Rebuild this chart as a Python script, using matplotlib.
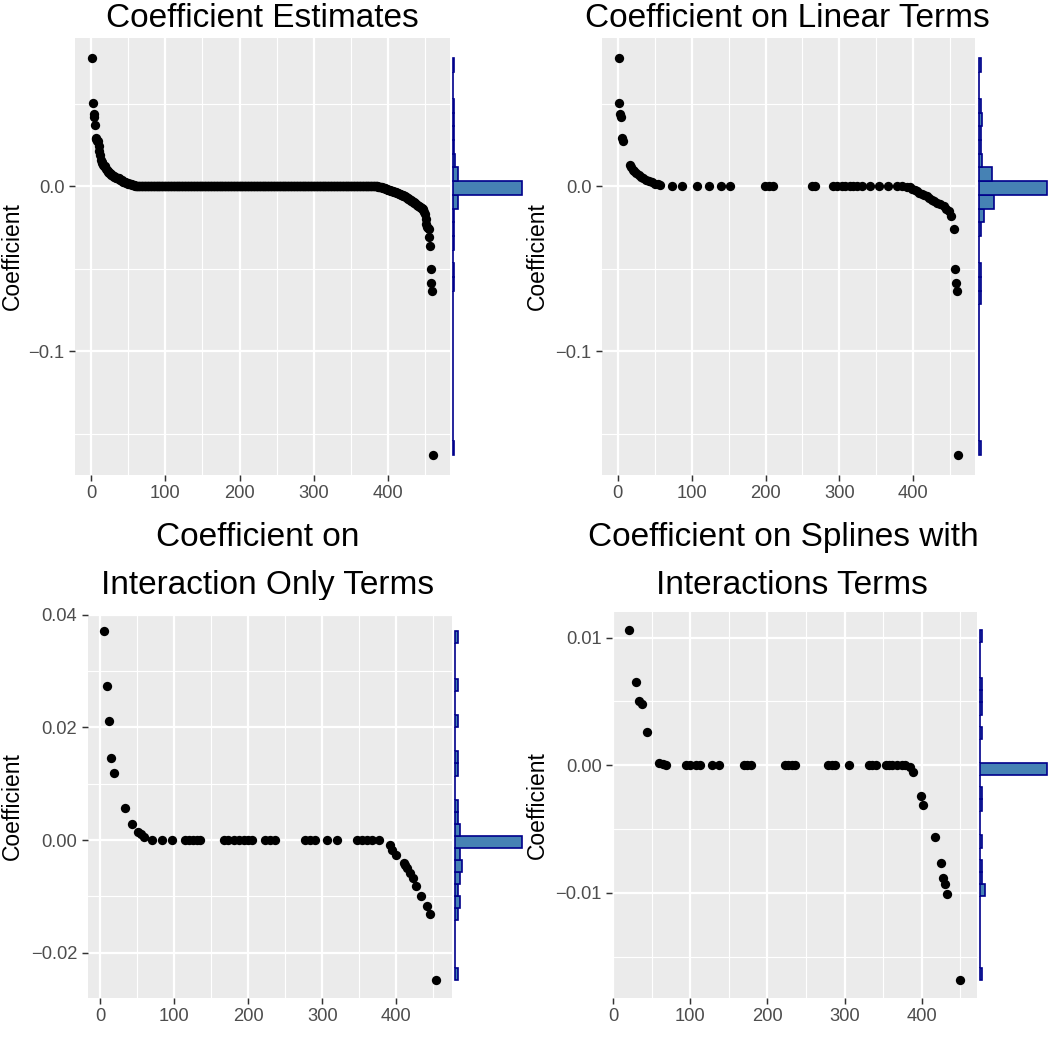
import numpy as np
import matplotlib
matplotlib.use("Agg")
import matplotlib.pyplot as plt
from matplotlib.transforms import Bbox, TransformedBbox

plt.rcParams['font.family'] = ['Liberation Sans', 'DejaVu Sans']

W = H = 1050

# ---------------- data ----------------
# Panel 1: all coefficients, sorted (rank 1..n)
p1_head = [0.0779, 0.0504, 0.0437, 0.0420, 0.0371, 0.0295, 0.0289, 0.0276, 0.0274, 0.0244,
           0.0212, 0.0193, 0.0160, 0.0146, 0.0140, 0.0130, 0.0125, 0.0121, 0.0119, 0.0106,
           0.0100, 0.0094, 0.0088, 0.0083, 0.0079, 0.0075, 0.0071, 0.0068, 0.0065, 0.0062,
           0.0059, 0.0056, 0.0053, 0.0051, 0.0050, 0.0049, 0.0048, 0.0044, 0.0041, 0.0038,
           0.0036, 0.0033, 0.0029, 0.0026, 0.0025, 0.0024, 0.0022, 0.0020, 0.0018, 0.0017,
           0.0016, 0.0015, 0.0013, 0.0012, 0.0011, 0.0010, 0.0008, 0.0007, 0.0005, 0.0004,
           0.0002, 0.00015, 0.00012, 0.0001, 0.0001, 0.00008, 0.00006, 0.00005, 0.00003]
p1_zero_count = 316
p1_tail = [-0.0001, -0.0002, -0.0003, -0.0004, -0.0005, -0.0006, -0.0007, -0.0008, -0.0010, -0.0011,
           -0.0013, -0.0015, -0.0017, -0.0018, -0.0020, -0.0021, -0.0023, -0.0024, -0.0026, -0.0027,
           -0.0029, -0.0030, -0.0032, -0.0033, -0.0035, -0.0037, -0.0039, -0.0041, -0.0043, -0.0045,
           -0.0047, -0.0049, -0.0051, -0.0053, -0.0055, -0.0057, -0.0059, -0.0061, -0.0064, -0.0067,
           -0.0070, -0.0073, -0.0076, -0.0079, -0.0082, -0.0085, -0.0088, -0.0091, -0.0094, -0.0097,
           -0.0100, -0.0104, -0.0108, -0.0111, -0.0114, -0.0117, -0.0120, -0.0123, -0.0126, -0.0129,
           -0.0133, -0.0138, -0.0145, -0.0155, -0.0169, -0.0200, -0.0231, -0.0245, -0.0251, -0.0260,
           -0.0308, -0.0363, -0.0500, -0.0588, -0.0633, -0.1630]
p1_y = p1_head + [0.0] * p1_zero_count + p1_tail
p1_x = list(range(1, len(p1_y) + 1))

# Panel 2: linear terms
p2_x = [1, 2, 3, 4, 5, 7, 16, 18, 20, 22, 25, 28, 31, 34, 38, 42, 46, 50, 54, 57,
        73, 87, 107, 123, 140, 152, 199, 205, 210, 263, 267,
        292, 297, 303, 308, 314, 319, 324, 330, 342, 354, 366, 378, 385, 391,
        395, 398, 402, 405, 408, 412, 415, 418, 422, 425, 428, 432, 436, 441, 444, 448, 451,
        455, 457, 458, 459, 461]
p2_y = [0.0779, 0.0504, 0.0437, 0.0420, 0.0295, 0.0276, 0.0130, 0.0115, 0.0100, 0.0090,
        0.0079, 0.0068, 0.0059, 0.0051, 0.0041, 0.0031, 0.0024, 0.0017, 0.0012, 0.0008,
        0, 0, 0, 0, 0, 0, 0, 0, 0, 0, 0,
        0, 0, 0, 0, 0, 0, 0, 0, 0, 0, 0, 0, 0, -0.0002,
        -0.0006, -0.0014, -0.0022, -0.0030, -0.0038, -0.0047, -0.0054, -0.0061, -0.0069, -0.0080,
        -0.0090, -0.0101, -0.0110, -0.0121, -0.0135, -0.0152, -0.0182,
        -0.0259, -0.0500, -0.0589, -0.0634, -0.1630]

# Panel 3: interaction only terms
p3_x = [5, 9, 11, 14, 19, 33, 43, 51, 55, 59,
        70, 83, 97, 115, 120, 125, 130, 135, 167, 173, 180, 187, 194, 200, 205,
        223, 229, 236, 277, 284, 290, 307, 320, 347, 353, 360, 367, 376,
        391, 394, 399, 410, 412, 415, 419, 423, 427, 433, 442, 445, 453]
p3_y = [0.0371, 0.0274, 0.0212, 0.0146, 0.0119, 0.0056, 0.0029, 0.0015, 0.0011, 0.0005,
        0, 0, 0, 0, 0, 0, 0, 0, 0, 0, 0, 0, 0, 0, 0,
        0, 0, 0, 0, 0, 0, 0, 0, 0, 0, 0, 0, 0,
        -0.0009, -0.0018, -0.0027, -0.0041, -0.0045, -0.0050, -0.0059, -0.0068, -0.0081, -0.0100,
        -0.0117, -0.0131, -0.0249]

# Panel 4: splines with interaction terms
p4_x = [20, 29, 34, 37, 44, 60, 65, 69,
        95, 100, 107, 113, 128, 137, 169, 174, 178, 223, 227, 232, 236, 279, 284, 288, 305,
        331, 335, 340, 353, 357, 361, 368, 374, 378,
        385, 388, 399, 402, 417, 425, 428, 430, 433, 450]
p4_y = [0.0106, 0.00655, 0.0050, 0.0048, 0.00263, 0.00015, 0.0001, 0.00005,
        0, 0, 0, 0, 0, 0, 0, 0, 0, 0, 0, 0, 0, 0, 0, 0, 0,
        0, 0, 0, 0, 0, 0, 0, 0, 0,
        -0.0001, -0.00055, -0.00244, -0.0031, -0.00562, -0.00762, -0.0088, -0.0093, -0.0101, -0.01685]

x_ticks = [0, 100, 200, 300, 400]
y_ticks_12 = [-0.1, 0.0]
y_labels_12 = ["\u22120.1", "0.0"]
y_ticks_3 = [-0.02, 0.0, 0.02, 0.04]
y_labels_3 = ["\u22120.02", "0.00", "0.02", "0.04"]
y_ticks_4 = [-0.01, 0.0, 0.01]
y_labels_4 = ["\u22120.01", "0.00", "0.01"]

title_1 = ["Coefficient Estimates"]
title_2 = ["Coefficient on Linear Terms"]
title_3 = ["Coefficient on", "Interaction Only Terms"]
title_4 = ["Coefficient on Splines with", "Interactions Terms"]
y_title = "Coefficient"
n_bins = 29

# ---------------- drawing ----------------
fig = plt.figure(figsize=(10.5, 10.5), dpi=100)
fig.patch.set_facecolor('white')


def minor_breaks(majors, lo, hi):
    step = majors[1] - majors[0]
    ext = [majors[0] - step] + list(majors) + [majors[-1] + step]
    mids = [(a + b) / 2 for a, b in zip(ext[:-1], ext[1:])]
    return [m for m in mids if lo <= m <= hi]


def panel(x, y, yt, ytl, left, top, bottom, qleft, qright, title_lines, title_base):
    width = (qright - left) / 1.2
    right = left + width
    ax = fig.add_axes([left / W, 1 - bottom / H, width / W, (bottom - top) / H])
    ax.set_facecolor('#EBEBEB')
    for s in ax.spines.values():
        s.set_visible(False)
    xr = max(x) - min(x)
    yr = max(y) - min(y)
    xlim = (min(x) - 0.05 * xr, max(x) + 0.05 * xr)
    ylim = (min(y) - 0.05 * yr, max(y) + 0.05 * yr)
    ax.set_xlim(xlim)
    ax.set_ylim(ylim)
    ax.set_xticks(x_ticks)
    ax.set_xticklabels([str(t) for t in x_ticks])
    ax.set_yticks(yt)
    ax.set_yticklabels(ytl)
    ax.set_xticks(minor_breaks(x_ticks, *xlim), minor=True)
    ax.set_yticks(minor_breaks(yt, *ylim), minor=True)
    ax.tick_params(which='major', length=4.1, width=1.07, color='#333333',
                   labelcolor='#4D4D4D', labelsize=13.2, pad=3.3)
    ax.tick_params(which='minor', length=0)
    ax.grid(which='major', color='white', linewidth=1.6)
    ax.grid(which='minor', color='white', linewidth=0.8)
    ax.set_axisbelow(True)
    ax.scatter(x, y, s=45, color='black', linewidths=0, zorder=3)

    axm = fig.add_axes([right / W, 1 - bottom / H, (qright - right) / W, (bottom - top) / H])
    counts, edges, patches = axm.hist(y, bins=n_bins, orientation='horizontal',
                                      color='#4682B4', edgecolor='#00008B', linewidth=1.2)
    axm.set_ylim(ylim)
    m = counts.max()
    axm.set_xlim(-0.05 * m, 1.05 * m)
    axm.axis('off')

    # y axis title
    fig.text((qleft + 0.5) / W, 1 - ((top + bottom) / 2) / H, y_title, rotation=90,
             ha='left', va='center', fontsize=16.5, color='black')

    qc = (qleft + qright) / 2
    if len(title_lines) == 1:
        fig.text(qc / W, 1 - title_base[0] / H, title_lines[0], ha='center',
                 va='baseline', fontsize=24, color='black')
    else:
        fig.text((qc - 4.6) / W, 1 - title_base[0] / H, title_lines[0], ha='center',
                 va='baseline', fontsize=24, color='black')
        t2 = fig.text((qc + 4.6) / W, 1 - title_base[1] / H, title_lines[1], ha='center',
                      va='baseline', fontsize=24, color='black')
        clip = TransformedBbox(Bbox.from_extents(qleft / W, 1 - 600 / H, qright / W, 1 - 500 / H),
                               fig.transFigure)
        t2.set_clip_box(clip)
        t2.set_clip_on(True)


panel(p1_x, p1_y, y_ticks_12, y_labels_12, 75, 38, 475, 0, 525, title_1, [27])
panel(p2_x, p2_y, y_ticks_12, y_labels_12, 601.6, 38, 475, 525, 1050, title_2, [27])
panel(p3_x, p3_y, y_ticks_3, y_labels_3, 87.5, 613.5, 997.8, 0, 525, title_3, [546, 594])
panel(p4_x, p4_y, y_ticks_4, y_labels_4, 612, 612.4, 998, 525, 1050, title_4, [546, 594])

fig.savefig('out.png', dpi=100, facecolor='white')
